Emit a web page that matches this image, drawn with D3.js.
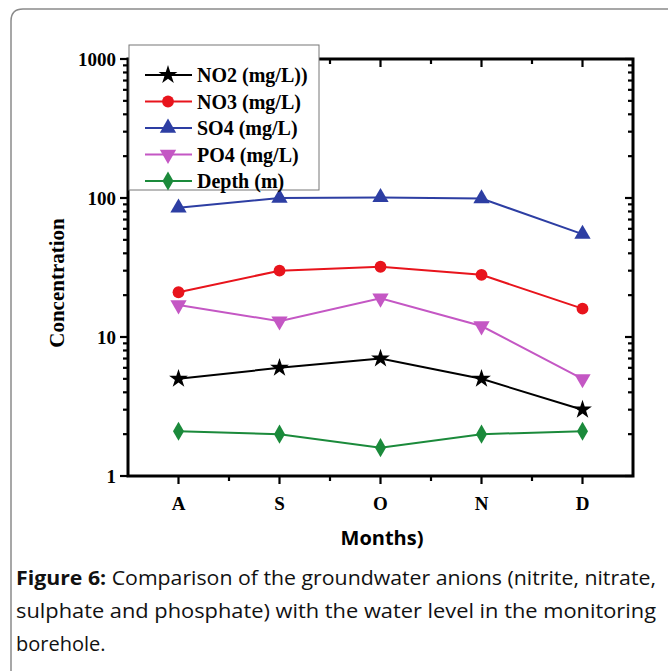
<!DOCTYPE html>
<html lang="en">

<head>
    <meta charset="utf-8">
    <title>Figure 6</title>
    <style>
        * {
            margin: 0;
            padding: 0;
            box-sizing: border-box;
        }

        body {
            background: #fff;
            width: 668px;
            height: 671px;
            overflow: hidden;
        }

        .serif {
            font-family: 'Liberation Serif', 'Times New Roman', serif;
            font-weight: bold;
        }
    </style>
</head>

<body>
    <div id="chart"></div>
    <script src="https://d3js.org/d3.v7.min.js"></script>

    <script>
        var months = ["A", "S", "O", "N", "D"];

        var no2 = [5, 6, 7, 5, 3];
        var no3 = [21, 30, 32, 28, 16];
        var so4 = [85, 100, 101, 99, 55];
        var po4 = [17, 13, 19, 12, 5];
        var depth = [2.1, 2.0, 1.6, 2.0, 2.1];

        var seriesNames = ["NO2 (mg/L))", "NO3 (mg/L)", "SO4 (mg/L)", "PO4 (mg/L)", "Depth (m)"];
        var seriesColors = ["#000000", "#e8141c", "#2d3ea3", "#c457c4", "#1b8a3b"];
        var yTickLabels = ["1", "10", "100", "1000"];

        var captionLines = [
            "Comparison of the groundwater anions (nitrite, nitrate,",
            "sulphate and phosphate) with the water level in the monitoring",
            "borehole."
        ];

        var series = [no2, no3, so4, po4, depth];
        var symbols = [
            { type: d3.symbolStar, size: 110, rot: 0 },
            { type: d3.symbolCircle, size: 110, rot: 0 },
            { type: d3.symbolTriangle, size: 115, rot: 0 },
            { type: d3.symbolTriangle, size: 115, rot: 180 },
            { type: d3.symbolDiamond, size: 105, rot: 0 }
        ];

        var width = 668,
            height = 671;

        var svg = d3.select("#chart")
            .append("svg")
            .attr("width", width)
            .attr("height", height)

        // outer frame with rounded top-left corner
        svg.append("path")
            .attr("d", "M11,680 L11,21 Q11,9 23,9 L680,9")
            .style("fill", "none")
            .style("stroke", "#8a8a8a")
            .style("stroke-width", "1.5")

        var pLeft = 128, pRight = 633, pTop = 59, pBottom = 476;

        var x = d3.scalePoint()
            .domain(months)
            .range([pLeft, pRight])
            .padding(0.5);

        var y = d3.scaleLog()
            .domain([1, 1000])
            .range([pBottom, pTop]);

        // tick values for log axis
        var yTicks = [];
        [1, 10, 100].forEach(function (d) {
            for (var i = 1; i < 10; i++) yTicks.push(d * i);
        });
        yTicks.push(1000);
        var isMajor = function (d) { return yTickLabels.indexOf(String(d)) >= 0; };

        var step = x.step();
        var xMinor = months.slice(0, -1).map(function (m) { return x(m) + step / 2; });
        var xTickData = months.map(function (m) { return [x(m), 8]; })
            .concat(xMinor.map(function (v) { return [v, 5]; }));

        var g = svg.append("g");

        // left axis
        g.selectAll(".ytl")
            .data(yTicks)
            .enter()
            .append("line")
            .attr("x1", pLeft)
            .attr("x2", function (d) { return pLeft - (isMajor(d) ? 8 : 5); })
            .attr("y1", function (d) { return y(d); })
            .attr("y2", function (d) { return y(d); })
            .style("stroke", "#000")
            .style("stroke-width", "2.2")

        // right axis (inward)
        g.selectAll(".ytr")
            .data(yTicks)
            .enter()
            .append("line")
            .attr("x1", pRight)
            .attr("x2", function (d) { return pRight - (isMajor(d) ? 8 : 5); })
            .attr("y1", function (d) { return y(d); })
            .attr("y2", function (d) { return y(d); })
            .style("stroke", "#000")
            .style("stroke-width", "2.2")

        // bottom ticks (outward)
        g.selectAll(".xtb")
            .data(xTickData)
            .enter()
            .append("line")
            .attr("x1", function (d) { return d[0]; })
            .attr("x2", function (d) { return d[0]; })
            .attr("y1", pBottom)
            .attr("y2", function (d) { return pBottom + d[1]; })
            .style("stroke", "#000")
            .style("stroke-width", "2.2")

        // top ticks (inward)
        g.selectAll(".xtt")
            .data(xTickData)
            .enter()
            .append("line")
            .attr("x1", function (d) { return d[0]; })
            .attr("x2", function (d) { return d[0]; })
            .attr("y1", pTop)
            .attr("y2", function (d) { return pTop + d[1]; })
            .style("stroke", "#000")
            .style("stroke-width", "2.2")

        g.append("rect")
            .attr("x", pLeft)
            .attr("y", pTop)
            .attr("width", pRight - pLeft)
            .attr("height", pBottom - pTop)
            .style("fill", "none")
            .style("stroke", "#000")
            .style("stroke-width", "3")

        // y tick labels
        g.selectAll(".ylab")
            .data(yTickLabels)
            .enter()
            .append("text")
            .attr("class", "serif")
            .attr("x", pLeft - 12)
            .attr("y", function (d) { return y(+d); })
            .attr("dy", "0.35em")
            .attr("text-anchor", "end")
            .style("font-size", "19px")
            .text(function (d) { return d; })

        // x tick labels
        g.selectAll(".xlab")
            .data(months)
            .enter()
            .append("text")
            .attr("class", "serif")
            .attr("x", function (d) { return x(d); })
            .attr("y", pBottom + 34)
            .attr("text-anchor", "middle")
            .style("font-size", "19px")
            .text(function (d) { return d; })

        // y axis title
        svg.append("text")
            .attr("class", "serif")
            .attr("transform", "translate(64,283) rotate(-90)")
            .attr("text-anchor", "middle")
            .style("font-size", "21px")
            .text("Concentration")

        // x axis title
        svg.append("text")
            .attr("x", 382)
            .attr("y", 545)
            .attr("text-anchor", "middle")
            .style("font-family", "'Open Sans', sans-serif")
            .style("font-weight", "bold")
            .style("font-size", "20px")
            .text("Months)")

        // series
        var line = d3.line()
            .x(function (d, i) { return x(months[i]); })
            .y(function (d) { return y(d); });

        series.forEach(function (vals, k) {
            var sg = svg.append("g");
            sg.append("path")
                .datum(vals)
                .attr("d", line)
                .style("fill", "none")
                .style("stroke", seriesColors[k])
                .style("stroke-width", "2")

            sg.selectAll("path.m")
                .data(vals)
                .enter()
                .append("path")
                .attr("class", "m")
                .attr("d", d3.symbol().type(symbols[k].type).size(symbols[k].size))
                .attr("transform", function (d, i) {
                    return "translate(" + x(months[i]) + "," + y(d) + ") rotate(" + symbols[k].rot + ")";
                })
                .style("fill", seriesColors[k])
        });

        // legend
        var lg = svg.append("g");
        lg.append("rect")
            .attr("x", 129)
            .attr("y", 45)
            .attr("width", 190)
            .attr("height", 145)
            .style("fill", "#fff")
            .style("stroke", "#777")
            .style("stroke-width", "1")

        var items = lg.selectAll("g.item")
            .data(seriesNames)
            .enter()
            .append("g")
            .attr("transform", function (d, i) { return "translate(0," + (75 + i * 26.5) + ")"; })

        items.append("line")
            .attr("x1", 145)
            .attr("x2", 192)
            .style("stroke", function (d, i) { return seriesColors[i]; })
            .style("stroke-width", "2")

        items.append("path")
            .attr("d", function (d, i) { return d3.symbol().type(symbols[i].type).size(symbols[i].size)(); })
            .attr("transform", function (d, i) { return "translate(168,0) rotate(" + symbols[i].rot + ")"; })
            .style("fill", function (d, i) { return seriesColors[i]; })

        items.append("text")
            .attr("class", "serif")
            .attr("x", 197)
            .attr("dy", "0.35em")
            .style("font-size", "20px")
            .text(function (d) { return d; })

        // caption
        var cap = svg.append("g")
            .style("font-family", "'Open Sans', sans-serif")
            .style("font-size", "20px")
            .style("fill", "#111");

        var t1 = cap.append("text")
            .attr("x", 16)
            .attr("y", 585)
            .attr("textLength", 640)
            .attr("lengthAdjust", "spacingAndGlyphs");
        t1.append("tspan").style("font-weight", "bold").text("Figure 6:");
        t1.append("tspan").text(" " + captionLines[0]);

        cap.append("text")
            .attr("x", 16)
            .attr("y", 618)
            .attr("textLength", 640)
            .attr("lengthAdjust", "spacingAndGlyphs")
            .text(captionLines[1]);

        cap.append("text")
            .attr("x", 16)
            .attr("y", 651)
            .text(captionLines[2]);
    </script>
</body>

</html>
